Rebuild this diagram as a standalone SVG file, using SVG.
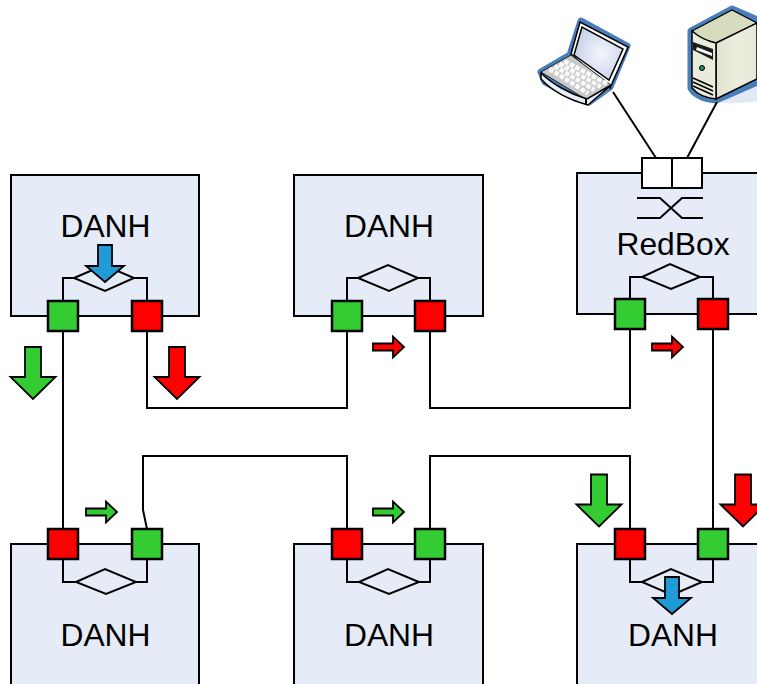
<svg xmlns="http://www.w3.org/2000/svg" width="757" height="684" viewBox="0 0 757 684">
<style>
.box{fill:#e6ecf7;stroke:#000;stroke-width:2}
.t{font-family:"Liberation Sans",Arial,sans-serif;font-size:31.8px;fill:#000;text-anchor:middle}
.ln{fill:none;stroke:#000;stroke-width:2}
.dm{fill:none;stroke:#000;stroke-width:2}
.g{fill:#33cc33;stroke:#000;stroke-width:2.5}
.r{fill:#ff0000;stroke:#000;stroke-width:2.5}
.a{stroke-width:1.8}
.b{fill:#1f9bd7;stroke:#000;stroke-width:1.8}
.h{fill:#4a7ebb;stroke:#4a7ebb;stroke-width:7;stroke-linejoin:round}
.k{fill:none;stroke:#fbfbfb;stroke-width:4.4;stroke-dasharray:4.6 1.6}
.o{stroke:#000;stroke-width:1.5}
</style>
<defs>
<path id="big" d="M-8 0H8V30H22.500L0 52L-22.500 30H-8Z"/>
<path id="blue" d="M-7 0H7V21H19L0 37L-19 21H-7Z"/>
<path id="small" d="M0 -3.500H20V-10.500L31 0L20 10.500V3.500H0Z"/>
<radialGradient id="scr" cx="0.55" cy="0.5" r="0.6"><stop offset="0" stop-color="#f4f6fb"/><stop offset="1" stop-color="#c3cfe8"/></radialGradient>
<linearGradient id="side" x1="0" y1="0" x2="1" y2="0"><stop offset="0" stop-color="#dfe3cc"/><stop offset="0.5" stop-color="#ecefe0"/><stop offset="1" stop-color="#e3e7d2"/></linearGradient>
</defs>
<g id="devices">
<g id="laptop">
<path class="h" d="M541 72L570 55L581 21L627 46L610 87L589 102L575 98L545 82Z"/>
<path d="M571 54L580 22L628 47L610 88L605 84Z" fill="#fff" class="o"/>
<path d="M574 55L582 27L623 49L609 80Z" fill="url(#scr)" class="o"/>
<path d="M541 72L571 55L611 85L587 100Z" fill="#c9c9c9" stroke="#222" stroke-width="1"/>
<path class="k" d="M564.500 61.200L606.900 83.600M559.500 63.800L600.600 86.600M554.500 66.200L594.400 89.900M549.500 68.800L588.100 93.400"/>
<path d="M541 73C552 84 570 94 587 99L611 85L588 105C570 100 552 91 541 79Z" fill="#e9edf7" stroke="#000" stroke-width="1.500"/>
<path d="M586 99V105" stroke="#000" stroke-width="2"/>
</g>
<g id="server">
<path d="M696 96L716 104L757 84V101C740 104 722 104 705 100Z" fill="#e2e8f4"/>
<path class="h" d="M691 31L732 9L760 21V81L716 100C705 99 695 95 691 88Z"/>
<path d="M692 31L732 10L757 23L716 43C705 41 697 37 692 31Z" fill="#d6dcbd" stroke="#000" stroke-width="1.200"/>
<path d="M716 43L757 23V79L716 99Z" fill="url(#side)" stroke="#000" stroke-width="1.500"/>
<path d="M692 31C699 37 707 41 716 43V99C706 98 697 94 692 88Z" fill="#eaecdb" stroke="#000" stroke-width="1.500"/>
<path d="M693 42L713 49V60L693 50Z" fill="#1a1a1a"/>
<path d="M697 47L712 53V56L696 50Z" fill="#f6f6f0"/>
<circle cx="702" cy="68" r="2.500" fill="#1b8f6f" stroke="#000"/>
<path d="M693 78L713 87M693 82L713 91M693 86L713 95" stroke="#000" stroke-width="1.500" fill="none"/>
</g>
</g>
<g id="connectors">
<path class="ln" d="M613 92L656 158M717 102L687 158"/>
<path class="ln" d="M147 331V408H347V331"/>
<path class="ln" d="M430 331V408H630V329"/>
<path class="ln" d="M63 331V529"/>
<path class="ln" d="M147 529L143 510V456H347V529"/>
<path class="ln" d="M430 529V456H630V529"/>
<path class="ln" d="M713 329V529"/>
</g>
<g id="danh1">
<rect class="box" x="11" y="175" width="188" height="141"/>
<text class="t" x="105.500" y="236.500">DANH</text>
<path class="ln" d="M63 301V278H74M134 278H147V301"/>
<path class="dm" d="M74 278L104 265L134 278L105 291Z"/>
<rect class="g" x="48" y="301" width="30" height="30"/>
<rect class="r" x="132" y="301" width="30" height="30"/>
</g>
<g id="danh2">
<rect class="box" x="294" y="175" width="189" height="141"/>
<text class="t" x="389" y="236.500">DANH</text>
<path class="ln" d="M347 301V278H358M418 278H430V301"/>
<path class="dm" d="M358 278L388 265L418 278L389 291Z"/>
<rect class="g" x="332" y="301" width="30" height="30"/>
<rect class="r" x="415" y="301" width="30" height="30"/>
</g>
<g id="redbox">
<rect class="box" x="577" y="173" width="190" height="141"/>
<rect x="642" y="158" width="30" height="30" fill="#fff" stroke="#000" stroke-width="2"/>
<rect x="672" y="158" width="30" height="30" fill="#fff" stroke="#000" stroke-width="2"/>
<path class="ln" d="M637 198H660L682 218H703M637 218H660L682 198H703"/>
<text class="t" x="673" y="254.500">RedBox</text>
<path class="ln" d="M630 299V277H642M700 277H713V299"/>
<path class="dm" d="M642 277L670 264L700 277L671 289Z"/>
<rect class="g" x="615" y="299" width="30" height="30"/>
<rect class="r" x="698" y="299" width="30" height="30"/>
</g>
<g id="danh4">
<rect class="box" x="11" y="544" width="188" height="150"/>
<text class="t" x="105.500" y="645.500">DANH</text>
<path class="ln" d="M63 559V582H76M136 582H147V559"/>
<path class="dm" d="M76 582L105 569L136 582L106 594Z"/>
<rect class="r" x="48" y="529" width="30" height="30"/>
<rect class="g" x="132" y="529" width="30" height="30"/>
</g>
<g id="danh5">
<rect class="box" x="294" y="544" width="189" height="150"/>
<text class="t" x="389" y="645.500">DANH</text>
<path class="ln" d="M347 559V582H359M419 582H430V559"/>
<path class="dm" d="M359 582L388 569L419 582L389 594Z"/>
<rect class="r" x="332" y="529" width="30" height="30"/>
<rect class="g" x="415" y="529" width="30" height="30"/>
</g>
<g id="danh6">
<rect class="box" x="577" y="544" width="190" height="150"/>
<text class="t" x="673" y="645.500">DANH</text>
<path class="ln" d="M630 559V582H642M702 582H713V559"/>
<path class="dm" d="M642 582L671 569L702 582L672 595Z"/>
<rect class="r" x="615" y="529" width="30" height="30"/>
<rect class="g" x="698" y="529" width="30" height="30"/>
</g>
<g id="flow-arrows">
<use href="#blue" x="105" y="245" class="b"/>
<use href="#big" x="33" y="347" class="g a"/>
<use href="#big" x="177" y="347" class="r a"/>
<use href="#big" x="599" y="474.500" class="g a"/>
<use href="#big" x="743" y="474.500" class="r a"/>
<use href="#blue" x="672" y="577" class="b"/>
<use href="#small" x="373" y="347" class="r a"/>
<use href="#small" x="652" y="347" class="r a"/>
<use href="#small" x="86" y="512" class="g a"/>
<use href="#small" x="373" y="512" class="g a"/>
</g>
</svg>
